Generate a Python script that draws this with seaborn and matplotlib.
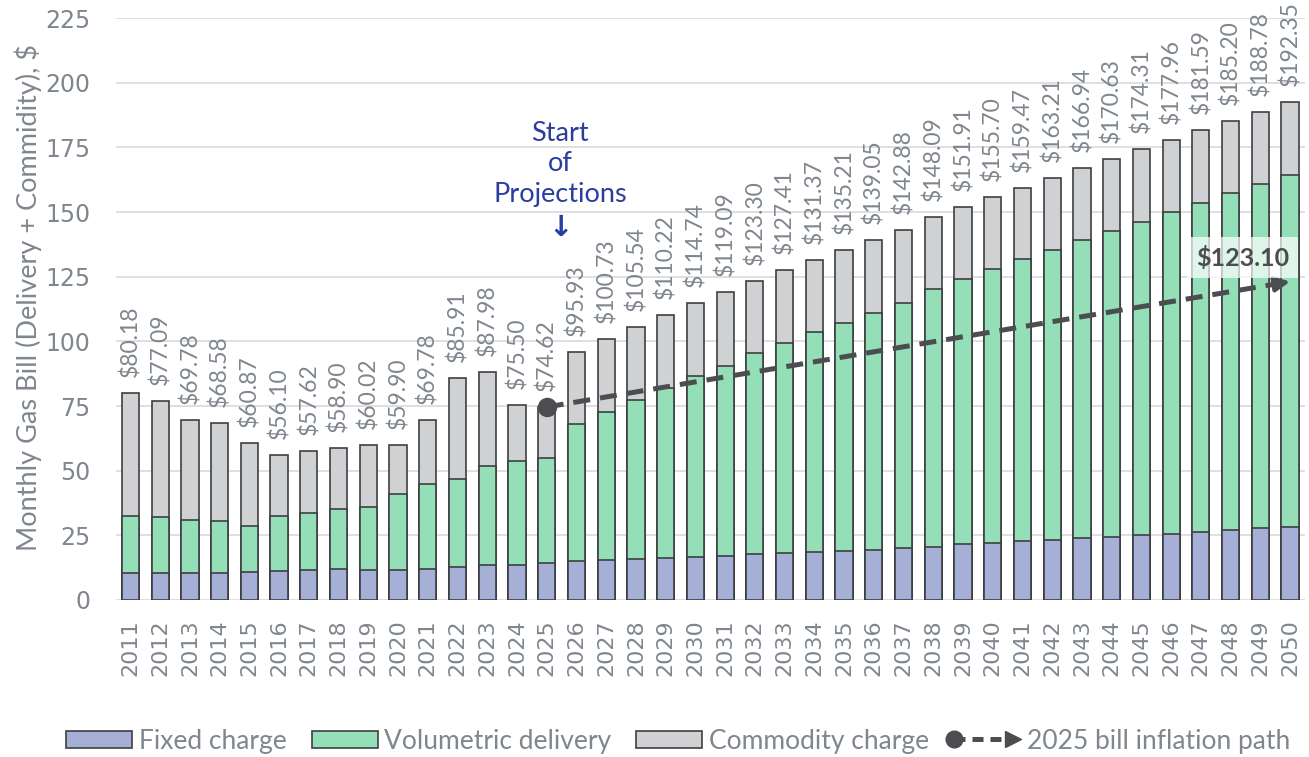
import matplotlib
matplotlib.use("Agg")
import matplotlib.pyplot as plt
import seaborn as sns
import pandas as pd
from matplotlib.lines import Line2D
from matplotlib.patches import Patch
from matplotlib.legend_handler import HandlerBase

# ---------------- data ----------------
years = list(range(2011, 2051))
fixed = [10.3, 10.3, 10.3, 10.3, 10.9, 11.2, 11.6, 12.0, 11.7, 11.7,
         12.1, 12.6, 13.5, 13.5, 14.4, 15.1, 15.5, 15.9, 16.4, 16.8,
         17.1, 17.7, 18.0, 18.4, 18.8, 19.3, 20.0, 20.6, 21.7, 22.2,
         22.8, 23.2, 23.8, 24.4, 25.0, 25.6, 26.2, 27.1, 27.7, 28.1]
volumetric_top = [32.5, 32.2, 30.9, 30.4, 28.6, 32.6, 33.5, 35.1, 36.1, 41.0,
                  44.8, 46.7, 51.8, 53.9, 55.0, 68.0, 72.6, 77.3, 82.1, 86.6,
                  90.5, 95.4, 99.5, 103.5, 107.2, 111.1, 115.0, 120.1, 124.0, 128.0,
                  131.7, 135.3, 139.1, 142.7, 146.3, 149.9, 153.6, 157.3, 160.8, 164.2]
totals = [80.18, 77.09, 69.78, 68.58, 60.87, 56.10, 57.62, 58.90, 60.02, 59.90,
          69.78, 85.91, 87.98, 75.50, 74.62, 95.93, 100.73, 105.54, 110.22, 114.74,
          119.09, 123.30, 127.41, 131.37, 135.21, 139.05, 142.88, 148.09, 151.91, 155.70,
          159.47, 163.21, 166.94, 170.63, 174.31, 177.96, 181.59, 185.20, 188.78, 192.35]
volumetric = [round(v - f, 2) for v, f in zip(volumetric_top, fixed)]
commodity = [round(t - v, 2) for t, v in zip(totals, volumetric_top)]

path_years = [2025, 2050]
path_values = [74.62, 123.10]
path_label = "$123.10"

series_names = ["Fixed charge", "Volumetric delivery", "Commodity charge",
                "2025 bill inflation path"]

# ---------------- style ----------------
C_FIXED = "#a6afd6"
C_VOL = "#94dfb8"
C_COMM = "#d0d1d3"
C_EDGE = "#3d3f42"
C_TEXT = "#7f868e"
C_PATH = "#4b4d50"
C_BLUE = "#2b3d9e"

sns.set_theme(style="white")
plt.rcParams["font.family"] = ["Lato", "DejaVu Sans"]

df = pd.DataFrame({
    "year": [str(y) for y in years],
    "fixed": fixed,
    "fixvol": [f + v for f, v in zip(fixed, volumetric)],
    "total": [f + v + c for f, v, c in zip(fixed, volumetric, commodity)],
})

fig = plt.figure(figsize=(13.09, 7.57), dpi=100)
ax = fig.add_axes([0.0883, 0.2074, 0.9086, 0.7688])

common = dict(data=df, x="year", saturation=1, width=0.58, errorbar=None,
              edgecolor=C_EDGE, linewidth=1.2, ax=ax)
sns.barplot(y="total", color=C_COMM, **common)
sns.barplot(y="fixvol", color=C_VOL, **common)
sns.barplot(y="fixed", color=C_FIXED, **common)

ax.bar_label(ax.containers[0], labels=[f"${t:.2f}" for t in totals],
             rotation=90, padding=11.5, fontsize=16.5, color=C_TEXT)

# ---------------- inflation path ----------------
px = [years.index(y) for y in path_years]
ax.plot(px, path_values, color=C_PATH, lw=3.6, dashes=(3.4, 2.0),
        dash_capstyle="butt", zorder=5)
ax.plot(px[:1], path_values[:1], marker="o", ms=13, color=C_PATH, zorder=6)
slope = (path_values[1] - path_values[0]) / (px[1] - px[0])
ax.annotate("", xy=(px[1], path_values[1]),
            xytext=(px[1] - 0.35, path_values[1] - 0.35 * slope),
            arrowprops=dict(arrowstyle="-|>", color=C_PATH, lw=3.0,
                            mutation_scale=22, shrinkA=0, shrinkB=0),
            zorder=6)
ax.text(px[1] - 1.6, path_values[1] + 9.3, path_label, ha="center", va="center",
        fontsize=18, fontweight="bold", color=C_PATH, zorder=7,
        bbox=dict(boxstyle="square,pad=0.35", fc="white", ec="none", alpha=0.7))

# ---------------- projections annotation ----------------
ax.text(14.45, 168.6, "Start\nof\nProjections", ha="center", va="center",
        fontsize=19.5, color=C_BLUE, linespacing=1.27)
ax.text(14.45, 144.0, "\u2193", ha="center", va="center", fontsize=21,
        fontweight="bold", color=C_BLUE, family=["DejaVu Sans"])

# ---------------- axes ----------------
ax.set_xlim(-0.5, 39.5)
ax.set_ylim(0, 225)
ax.set_yticks(range(0, 226, 25))
ax.yaxis.grid(True, color="#dcdcdc", lw=1.3)
ax.xaxis.grid(False)
ax.set_axisbelow(True)
for s in ax.spines.values():
    s.set_visible(False)
ax.tick_params(axis="y", length=0, pad=18, labelsize=17, labelcolor=C_TEXT)
ax.tick_params(axis="x", length=0, pad=14, labelsize=16, labelcolor=C_TEXT,
               rotation=90)
for lab in ax.get_yticklabels() + ax.get_xticklabels():
    lab.set_family(["DejaVu Sans"])
ax.set_xlabel("")
ax.set_ylabel("Monthly Gas Bill (Delivery + Commidity), $", fontsize=19.5,
              color=C_TEXT)
ax.yaxis.set_label_coords(-0.062, 0.52)


# ---------------- legend ----------------
class PathHandler(HandlerBase):
    def create_artists(self, legend, orig_handle, xdescent, ydescent, width,
                       height, fontsize, trans):
        y = height / 2 - ydescent
        x0 = -xdescent - 6
        x1 = -xdescent + width
        line = Line2D([x0 + 6, x1 - 6], [y, y], color=C_PATH, lw=3.6,
                      dashes=(2.2, 1.4), transform=trans)
        dot = Line2D([x0 + 6], [y], marker="o", ms=12, color=C_PATH,
                     lw=0, transform=trans)
        head = Line2D([x1 - 5], [y], marker=">", ms=11, color=C_PATH,
                      lw=0, transform=trans)
        return [line, dot, head]


handles = [Patch(fc=C_FIXED, ec=C_EDGE, lw=1.2),
           Patch(fc=C_VOL, ec=C_EDGE, lw=1.2),
           Patch(fc=C_COMM, ec=C_EDGE, lw=1.2),
           Line2D([], [], color=C_PATH)]
fig.legend(handles, series_names, loc="center", bbox_to_anchor=(0.518, 0.021),
           ncol=4, frameon=False, fontsize=19, labelcolor=C_TEXT,
           handlelength=2.5, handleheight=0.65, handletextpad=0.25,
           columnspacing=0.95,
           handler_map={Line2D: PathHandler()})

fig.savefig("out.png", dpi=100)
